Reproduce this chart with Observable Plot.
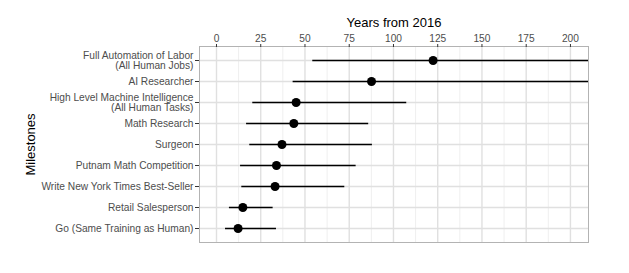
<!DOCTYPE html>
<html><head>
<meta charset="utf-8">
<script src="https://cdn.jsdelivr.net/npm/d3@7"></script>
<script src="https://cdn.jsdelivr.net/npm/@observablehq/plot@0.6"></script>
<style>body{margin:0;background:#fff}</style>
</head><body><div id="chart"></div>
<script>
const milestones = [
  "Full Automation of Labor\n(All Human Jobs)",
  "AI Researcher",
  "High Level Machine Intelligence\n(All Human Tasks)",
  "Math Research",
  "Surgeon",
  "Putnam Math Competition",
  "Write New York Times Best-Seller",
  "Retail Salesperson",
  "Go (Same Training as Human)"
];
const median = [122.4, 87.6, 45, 43.7, 37, 33.9, 33.1, 14.9, 12.2];
const lower  = [54.4, 43.3, 20.5, 17, 18.8, 13.6, 14.3, 7.3, 5.1];
const upper  = [230, 230, 107.5, 86, 88.1, 78.9, 72.5, 32, 33.9];
const xTicks = [0, 25, 50, 75, 100, 125, 150, 175, 200];
const xMinor = [12.5, 37.5, 62.5, 87.5, 112.5, 137.5, 162.5, 187.5];

const data = milestones.map((m, i) => ({m, med: median[i], lo: lower[i], hi: upper[i]}));

const chart = Plot.plot({
  width: 629, height: 273,
  marginLeft: 199, marginRight: 41, marginTop: 46, marginBottom: 31,
  style: {fontFamily: "'Liberation Sans', Arial, Helvetica, sans-serif", fontSize: "10px", background: "white"},
  x: {domain: [-9.6, 210.2]},
  y: {type: "point", domain: milestones, padding: 0.6},
  marks: [
    Plot.gridX(xMinor, {stroke: "#efefef", strokeOpacity: 1, strokeWidth: 1}),
    Plot.gridX(xTicks, {stroke: "#e0e0e0", strokeOpacity: 1, strokeWidth: 1.4}),
    Plot.gridY(milestones, {stroke: "#e0e0e0", strokeOpacity: 1, strokeWidth: 1.4}),
    Plot.frame({stroke: "#b3b3b3"}),
    Plot.axisX(xTicks, {anchor: "top", tickSize: 3, tickPadding: 2, fill: "#4d4d4d", stroke: "#333", fontSize: 10.2, label: null}),
    Plot.axisY(milestones, {anchor: "left", tickSize: 4, tickPadding: 2, fill: "#4d4d4d", stroke: "#333", fontSize: 10.2, lineHeight: 1.07, label: null}),
    Plot.ruleY(data, {y: "m", x1: "lo", x2: "hi", stroke: "black", strokeWidth: 1.3, clip: true}),
    Plot.dot(data, {x: "med", y: "m", r: 4.5, fill: "black", stroke: null}),
    Plot.text(["Years from 2016"], {frameAnchor: "top", textAnchor: "middle", lineAnchor: "middle", dy: -24, fontSize: 13, fill: "black"}),
    Plot.text(["Milestones"], {frameAnchor: "left", textAnchor: "middle", lineAnchor: "middle", dx: -169, rotate: -90, fontSize: 13, fill: "black"})
  ]
});
document.getElementById("chart").appendChild(chart);
</script>
</body></html>
